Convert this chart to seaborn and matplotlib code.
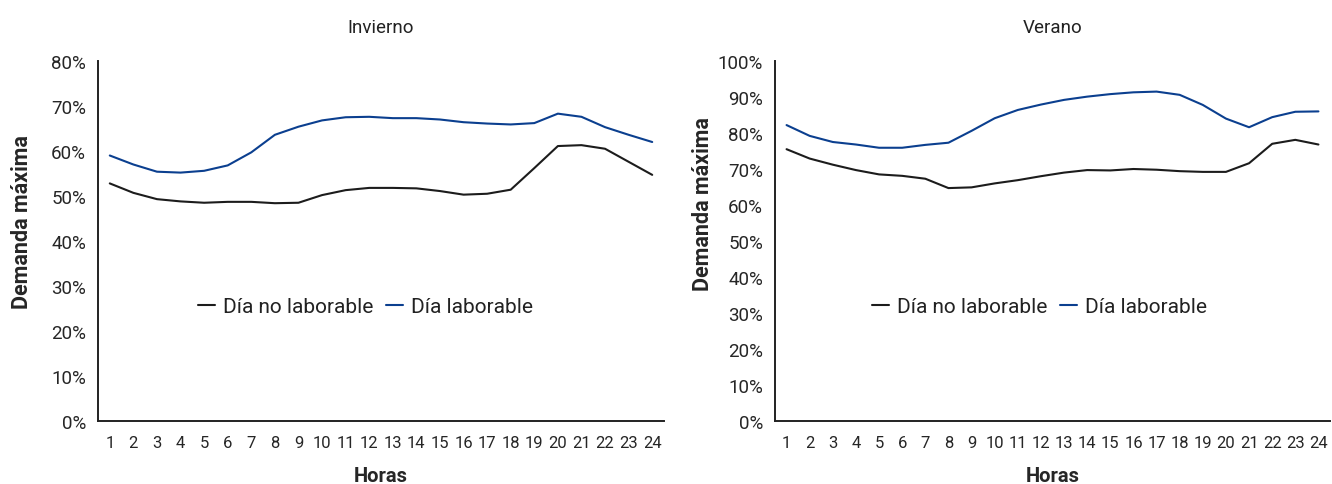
import pandas as pd
import numpy as np
import seaborn as sns
import matplotlib.pyplot as plt
from matplotlib.ticker import FixedLocator, PercentFormatter

# Horas del dia
horas = list(range(1, 25))

# Invierno (% de la demanda maxima)
inv_no_laborable = [52.8, 50.7, 49.3, 48.8, 48.5, 48.7, 48.7, 48.4, 48.5, 50.2, 51.3, 51.8,
                    51.8, 51.7, 51.1, 50.3, 50.5, 51.4, 56.2, 61.1, 61.3, 60.5, 57.6, 54.7]
inv_laborable = [59.0, 57.0, 55.4, 55.2, 55.6, 56.8, 59.7, 63.6, 65.4, 66.8, 67.5, 67.6,
                 67.3, 67.3, 67.0, 66.4, 66.1, 65.9, 66.2, 68.3, 67.6, 65.3, 63.6, 62.0]

# Verano
ver_no_laborable = [75.5, 72.9, 71.2, 69.7, 68.5, 68.1, 67.3, 64.7, 64.9, 66.0, 66.9, 68.0,
                    69.0, 69.7, 69.6, 70.0, 69.8, 69.4, 69.2, 69.2, 71.6, 77.0, 78.1, 76.8]
ver_laborable = [82.2, 79.2, 77.5, 76.8, 75.9, 75.9, 76.7, 77.3, 80.6, 84.1, 86.4, 87.9,
                 89.2, 90.1, 90.8, 91.3, 91.5, 90.6, 87.8, 84.0, 81.6, 84.4, 85.9, 86.0]

series = ['Día no laborable', 'Día laborable']
colores = {'Día no laborable': '#1c1c1c', 'Día laborable': '#0b3f8f'}

sns.set_style('white')
plt.rcParams['font.family'] = ['Roboto', 'DejaVu Sans']
plt.rcParams['text.color'] = '#222222'

fig = plt.figure(figsize=(13.32, 4.85), dpi=100)
ax1 = fig.add_axes([98 / 1332, 63 / 485, 566 / 1332, 360 / 485])
ax2 = fig.add_axes([775 / 1332, 63 / 485, 555 / 1332, 360 / 485])


def armar(ax, no_lab, lab, titulo, ymax, leg_x, ylab_xy):
    df = pd.DataFrame({
        'hora': horas * 2,
        'valor': no_lab + lab,
        'tipo': [series[0]] * 24 + [series[1]] * 24,
    })
    sns.lineplot(data=df, x='hora', y='valor', hue='tipo', hue_order=series,
                 palette=colores, linewidth=1.5, ax=ax)
    ax.set_xlim(0.5, 24.5)
    ax.set_ylim(0, ymax)
    ax.set_yticks(np.arange(0, ymax + 1, 10))
    ax.yaxis.set_major_formatter(PercentFormatter(decimals=0))
    # marcas entre categorias, etiquetas centradas
    ax.xaxis.set_major_locator(FixedLocator(np.arange(0.5, 25, 1)))
    ax.xaxis.set_major_formatter(plt.NullFormatter())
    ax.xaxis.set_minor_locator(FixedLocator(horas))
    ax.set_xticklabels([str(h) for h in horas], minor=True)
    ax.tick_params(axis='x', which='major', length=4, width=1.2, color='#222222', direction='out')
    ax.tick_params(axis='x', which='minor', length=0, pad=10, labelsize=12)
    ax.tick_params(axis='y', length=5, width=1.2, color='#222222', labelsize=13.5, direction='out')
    for s in ['top', 'right']:
        ax.spines[s].set_visible(False)
    for s in ['left', 'bottom']:
        ax.spines[s].set_color('#222222')
        ax.spines[s].set_linewidth(1.4)
    ax.set_title(titulo, fontsize=13.5, pad=21)
    ax.set_xlabel('Horas', fontsize=14.5, fontweight='bold')
    ax.xaxis.set_label_coords(0.5, -0.125)
    ax.set_ylabel('Demanda máxima', fontsize=15.5, fontweight='bold')
    ax.yaxis.set_label_coords(*ylab_xy)
    ax.legend(loc='center', bbox_to_anchor=(leg_x, 0.317), ncol=2, frameon=False,
              fontsize=15, handlelength=0.8, handletextpad=0.4, columnspacing=0.6)


armar(ax1, inv_no_laborable, inv_laborable, 'Invierno', 80, 0.473, (-0.115, 0.556))
armar(ax2, ver_no_laborable, ver_laborable, 'Verano', 100, 0.477, (-0.11, 0.606))

fig.savefig('out.png', dpi=100)
